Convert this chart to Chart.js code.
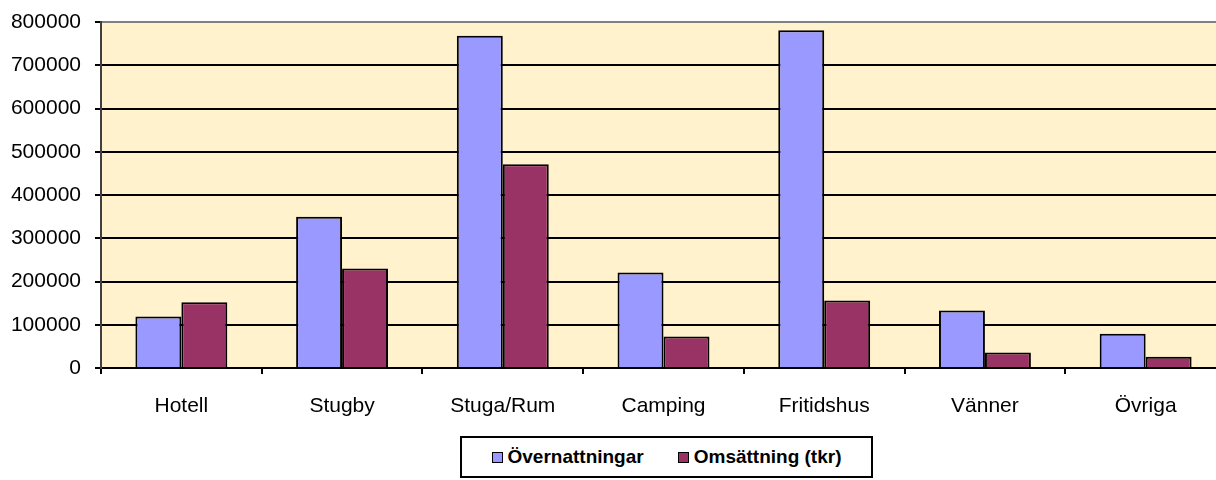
<!DOCTYPE html>
<html>
<head>
<meta charset="utf-8">
<script src="https://cdn.jsdelivr.net/npm/chart.js@4/dist/chart.umd.min.js"></script>
<style>
  html, body { margin: 0; padding: 0; background: #fff; overflow: hidden; width: 1216px; height: 480px; }
  #wrap { position: absolute; left: 0; top: 0; width: 1226px; height: 480px; }
  #legend {
    position: absolute; left: 460px; top: 436px; width: 409px; height: 38px;
    border: 2px solid #000; background: #fff;
    font: bold 19px "Liberation Sans", Arial, sans-serif; color: #000;
    display: flex; align-items: center; justify-content: center; gap: 34px;
  }
  #legend span.item { display: flex; align-items: center; }
  #legend i { display: inline-block; width: 9px; height: 9px; border: 1px solid #000; margin-right: 5px; }
</style>
</head>
<body>
<div id="wrap"><canvas id="chart"></canvas></div>
<div id="legend"></div>
<script>
/* Övernattningar och omsättning per boendeform */

const kategorier = ["Hotell", "Stugby", "Stuga/Rum", "Camping", "Fritidshus", "Vänner", "Övriga"];
const overnattningar = [119000, 350000, 768000, 221000, 781000, 133000, 79000];
const omsattning = [152000, 230000, 471000, 73000, 156000, 36000, 26000];
const serieNamn = ["Övernattningar", "Omsättning (tkr)"];
const serieFarg = ["#9999FF", "#993366"];
const yMax = 800000;
const ySteg = 100000;

const typsnitt = { family: "'Liberation Sans', Arial, sans-serif", size: 21 };

const bakgrund = {
  id: "bakgrund",
  beforeDraw(chart) {
    const { ctx, chartArea: a } = chart;
    ctx.save();
    ctx.fillStyle = "#fff";
    ctx.fillRect(0, 0, chart.width, chart.height);
    ctx.fillStyle = "#FFF2CC";
    ctx.fillRect(a.left, a.top, a.right - a.left, a.bottom - a.top);
    ctx.restore();
  },
};

new Chart(document.getElementById("chart"), {
  type: "bar",
  data: {
    labels: kategorier,
    datasets: [
      { label: serieNamn[0], data: overnattningar, backgroundColor: serieFarg[0], borderColor: "#000", borderWidth: 2 },
      { label: serieNamn[1], data: omsattning, backgroundColor: serieFarg[1], borderColor: "#000", borderWidth: 2 },
    ],
  },
  options: {
    responsive: true,
    maintainAspectRatio: false,
    animation: false,
    layout: { padding: { left: 0, top: 0, right: 0, bottom: 0 } },
    datasets: { bar: { categoryPercentage: 0.572, barPercentage: 1 } },
    plugins: { legend: { display: false }, tooltip: { enabled: false } },
    scales: {
      x: {
        offset: true,
        grid: { offset: true, drawOnChartArea: false, drawTicks: true, tickLength: 6, tickColor: "#000", lineWidth: 2 },
        border: { color: "#000", width: 2 },
        ticks: { color: "#000", font: typsnitt, padding: 20, maxRotation: 0 },
        afterFit(s) { s.height = 112; },
      },
      y: {
        min: 0,
        max: yMax,
        ticks: { stepSize: ySteg, color: "#000", font: typsnitt, padding: 14, callback: (v) => String(v) },
        grid: {
          color: (c) => (c.tick && c.tick.value === yMax ? "#808080" : "#000"),
          lineWidth: 2,
          tickLength: 6,
          tickColor: "#000",
        },
        border: { color: "#404040", width: 2 },
        afterFit(s) { s.width = 101; s.paddingTop = 22; },
      },
    },
  },
  plugins: [bakgrund],
});

document.getElementById("legend").innerHTML = serieNamn
  .map((n, i) => `<span class="item"><i style="background:${serieFarg[i]}"></i>${n}</span>`)
  .join("");
</script>
</body>
</html>
